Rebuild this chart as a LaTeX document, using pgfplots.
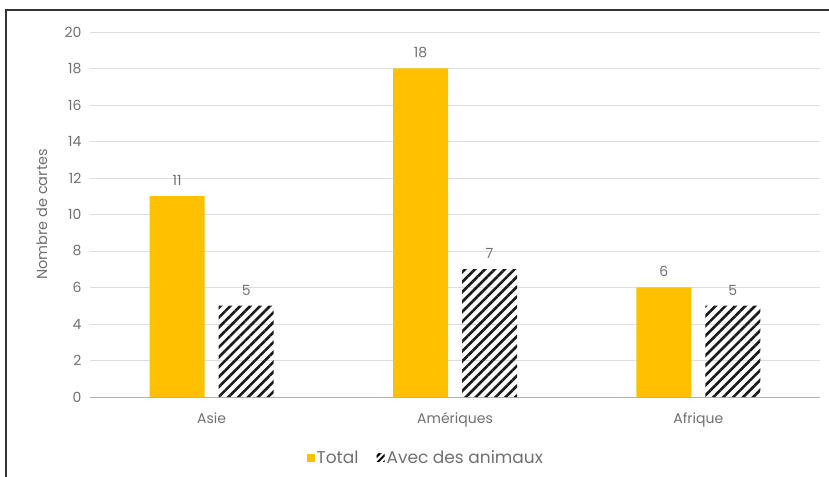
\documentclass[border=0pt]{standalone}
\usepackage{fontspec}
\setmainfont{Poppins}
\usepackage{pgfplots}
\pgfplotsset{compat=1.18}
\usetikzlibrary{patterns.meta}
\definecolor{gold}{HTML}{FFC000}
\definecolor{txt}{HTML}{707070}
\definecolor{gridc}{HTML}{DDDDDD}
\begin{document}
\begin{tikzpicture}
\path[use as bounding box] (0,0) rectangle (829bp,477bp);
\draw[line width=1.6bp, black!80] (6bp,0) -- (6bp,467bp) -- (829bp,467bp);
\begin{axis}[
  at={(90bp,80bp)}, anchor=south west,
  scale only axis, width=730bp, height=365bp,
  ybar=14bp, bar width=55bp,
  xmin=-0.5, xmax=2.5, ymin=0, ymax=20,
  xtick={0,1,2}, xticklabels={Asie,Amériques,Afrique},
  ytick={0,2,...,20},
  axis line style={draw=none},
  axis x line*=bottom,
  tick style={draw=none},
  ymajorgrids, grid style={gridc, line width=0.9bp},
  extra y ticks={0}, extra y tick labels={},
  extra y tick style={grid style={gridc!80!black, line width=0.9bp}},
  font=\fontsize{14bp}{16bp}\selectfont,
  every tick label/.append style={text=txt, font=\fontsize{14bp}{16bp}\selectfont},
  /pgf/number format/assume math mode=true,
  yticklabel style={xshift=-5bp},
  xticklabel style={yshift=-8bp},
  ylabel={Nombre de cartes},
  ylabel style={text=txt, font=\fontsize{14.5bp}{16bp}\selectfont, at={(axis description cs:-0.066,0.5)}, anchor=center},
  nodes near coords,
  nodes near coords style={text=txt, font=\fontsize{14bp}{16bp}\selectfont, anchor=south, yshift=7bp},
  legend style={at={(axis description cs:0.46,-0.167)}, anchor=center, draw=none, fill=none,
    legend columns=2, font=\fontsize{17bp}{19bp}\selectfont, text=txt,
    /tikz/every even column/.append style={column sep=16bp},
    /tikz/every odd column/.append style={inner xsep=1bp}},
  legend cell align=left,
]
\addplot[fill=gold, draw=none,
  area legend,
  legend image code/.code={\fill[gold] (0bp,-4bp) rectangle (8bp,4bp);}]
  coordinates {(0,11) (1,18) (2,6)};
\addplot[draw=none, pattern={Lines[angle=45, distance=7bp, line width=2.6bp]}, pattern color=black!90,
  area legend,
  legend image code/.code={\fill[pattern={Lines[angle=45, distance=4.5bp, line width=2bp]}, pattern color=black] (0bp,-4bp) rectangle (8bp,4bp);}]
  coordinates {(0,5) (1,7) (2,5)};
\legend{Total, Avec des animaux}
\end{axis}
\end{tikzpicture}
\end{document}
